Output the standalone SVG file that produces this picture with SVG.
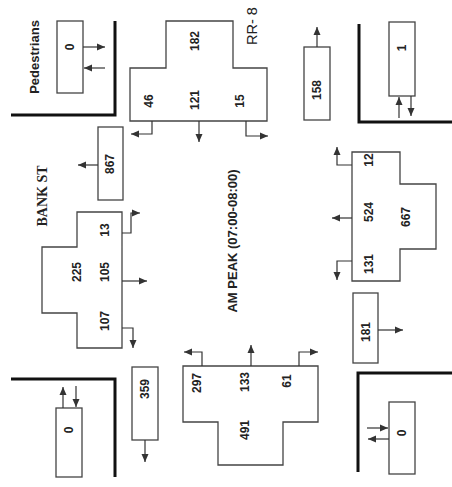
<svg xmlns="http://www.w3.org/2000/svg" width="452" height="487" viewBox="0 0 452 487">
<style>
.bx{fill:none;stroke:#444;stroke-width:1.3}
.ln{fill:none;stroke:#333;stroke-width:1.2}
.ar{fill:none;stroke:#333;stroke-width:1.2;marker-end:url(#ah)}
.cr{fill:none;stroke:#111;stroke-width:3}
.n{font-family:"Liberation Sans",Arial,sans-serif;font-weight:bold;font-size:12px;fill:#222;text-anchor:middle;dominant-baseline:central}
.t{font-family:"Liberation Sans",Arial,sans-serif;font-weight:bold;font-size:13px;fill:#222;text-anchor:middle;dominant-baseline:central}
.s{font-family:"Liberation Serif","Times New Roman",serif;font-weight:bold;font-size:14px;fill:#222;text-anchor:middle;dominant-baseline:central}
.r{font-family:"Liberation Sans",Arial,sans-serif;font-size:14.5px;fill:#222;text-anchor:start;dominant-baseline:central}
</style>
<defs>
<marker id="ah" markerUnits="userSpaceOnUse" markerWidth="9" markerHeight="8" refX="8" refY="4" orient="auto">
<path d="M0,0.5 L8,4 L0,7.5 z" fill="#333"/>
</marker>
</defs>
<rect width="452" height="487" fill="#fff"/>

<g id="corners">
<path class="cr" d="M11,115 H115 V21"/>
<path class="cr" d="M359,24 V122 H452"/>
<path class="cr" d="M11,379 H115 V477"/>
<path class="cr" d="M452,373 H358 V472"/>
</g>

<g id="labels">
<text class="t" transform="translate(34,57) rotate(-90)">Pedestrians</text>
<text class="s" transform="translate(42,196) rotate(-90)">BANK ST</text>
<text class="t" transform="translate(232,241) rotate(-90)">AM PEAK (07:00-08:00)</text>
<text class="r" transform="translate(252,45) rotate(-90)">RR- 8</text>
</g>

<g id="ped-tl">
<rect class="bx" x="57" y="21" width="26" height="72"/>
<text class="n" transform="translate(70,47) rotate(-90)">0</text>
</g>
<g id="ped-tr">
<rect class="bx" x="389" y="22" width="26" height="74"/>
<text class="n" transform="translate(402,48) rotate(-90)">1</text>
</g>
<g id="ped-bl">
<rect class="bx" x="56" y="408" width="26" height="69"/>
<text class="n" transform="translate(69,430) rotate(-90)">0</text>
</g>
<g id="ped-br">
<rect class="bx" x="389" y="402" width="26" height="72"/>
<text class="n" transform="translate(402,433) rotate(-90)">0</text>
</g>

<g id="node-top">
<path class="bx" d="M130,121 V68 H166 V21 H233 V68 H267 V121 Z"/>
<text class="n" transform="translate(195,41) rotate(-90)">182</text>
<text class="n" transform="translate(149,101) rotate(-90)">46</text>
<text class="n" transform="translate(195,100) rotate(-90)">121</text>
<text class="n" transform="translate(240,101) rotate(-90)">15</text>
</g>
<g id="box-158">
<rect class="bx" x="304" y="47" width="26" height="73"/>
<text class="n" transform="translate(317,90) rotate(-90)">158</text>
</g>
<g id="box-867">
<rect class="bx" x="98" y="127" width="25" height="73"/>
<text class="n" transform="translate(110,164) rotate(-90)">867</text>
</g>
<g id="node-left">
<path class="bx" d="M77,212 H122 V348 H77 V313 H42 V247 H77 Z"/>
<text class="n" transform="translate(77,272) rotate(-90)">225</text>
<text class="n" transform="translate(105,230) rotate(-90)">13</text>
<text class="n" transform="translate(105,272) rotate(-90)">105</text>
<text class="n" transform="translate(105,321) rotate(-90)">107</text>
</g>
<g id="node-right">
<path class="bx" d="M352,152 H400 V184 H436 V249 H400 V281 H352 Z"/>
<text class="n" transform="translate(369,160) rotate(-90)">12</text>
<text class="n" transform="translate(369,212) rotate(-90)">524</text>
<text class="n" transform="translate(369,264) rotate(-90)">131</text>
<text class="n" transform="translate(406,217) rotate(-90)">667</text>
</g>
<g id="box-181">
<rect class="bx" x="353" y="293" width="25" height="70"/>
<text class="n" transform="translate(366,332) rotate(-90)">181</text>
</g>
<g id="box-359">
<rect class="bx" x="132" y="367" width="26" height="73"/>
<text class="n" transform="translate(145,389) rotate(-90)">359</text>
</g>
<g id="node-bottom">
<path class="bx" d="M183,366 H318 V422 H283 V465 H218 V422 H183 Z"/>
<text class="n" transform="translate(197,383) rotate(-90)">297</text>
<text class="n" transform="translate(245,382) rotate(-90)">133</text>
<text class="n" transform="translate(287,381) rotate(-90)">61</text>
<text class="n" transform="translate(245,430) rotate(-90)">491</text>
</g>

<g id="connectors">
<path class="ar" d="M83,47 H105"/>
<path class="ar" d="M105,68 H84"/>
<path class="ar" d="M399,118 V97"/>
<path class="ar" d="M411,96 V116"/>
<path class="ar" d="M63,408 V387"/>
<path class="ar" d="M76,386 V407"/>
<path class="ar" d="M367,428 H388"/>
<path class="ar" d="M389,439 H368"/>

<path class="ar" d="M152,121 V134 H131"/>
<path class="ar" d="M199,121 V142"/>
<path class="ar" d="M246,121 V136 H268"/>
<path class="ar" d="M317,47 V27"/>
<path class="ar" d="M98,165 H78"/>
<path class="ar" d="M122,233 H131 V213 H140"/>
<path class="ar" d="M122,281 H147"/>
<path class="ar" d="M122,328 H133 V348"/>
<path class="ar" d="M352,165 H337 V147"/>
<path class="ar" d="M352,218 H332"/>
<path class="ar" d="M352,261 H337 V280"/>
<path class="ar" d="M378,330 H403"/>
<path class="ar" d="M145,440 V462"/>
<path class="ar" d="M202,366 V352 H184"/>
<path class="ar" d="M251,366 V345"/>
<path class="ar" d="M299,366 V352 H318"/>
</g>
</svg>
